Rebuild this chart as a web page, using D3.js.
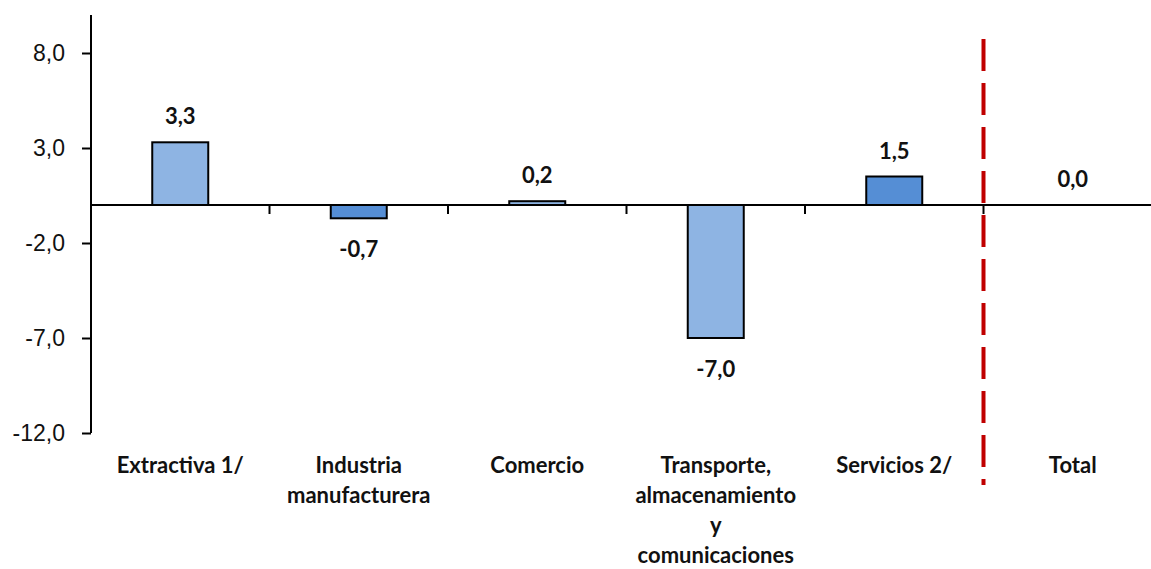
<!DOCTYPE html>
<html>
<head>
<meta charset="utf-8">
<script src="https://cdn.jsdelivr.net/npm/d3@7"></script>
<style>
  body { margin: 0; background: #fff; }
  svg { display: block; font-family: Lato, "Open Sans", sans-serif; }
</style>
</head>
<body>
<svg id="chart" width="1151" height="569"></svg>
<script>
// data
const categories = ["Extractiva 1/", "Industria manufacturera", "Comercio", "Transporte, almacenamiento y comunicaciones", "Servicios 2/", "Total"];
const labelLines = [["Extractiva 1/"], ["Industria", "manufacturera"], ["Comercio"], ["Transporte,", "almacenamiento", "y", "comunicaciones"], ["Servicios 2/"], ["Total"]];
const values = [3.3, -0.7, 0.2, -7.0, 1.5, 0.0];
const barColors = ["#8EB4E3", "#558ED5", "#8EB4E3", "#8EB4E3", "#558ED5", "#558ED5"];
const yTicks = [-12, -7, -2, 3, 8];

const svg = d3.select("#chart");
const left = 91;
const band = 178.5;

const x = d3.scaleBand()
    .domain(categories)
    .range([left, left + band * categories.length])
    .paddingInner(0)
    .paddingOuter(0);

const y = d3.scaleLinear()
    .domain([-12, 10])
    .range([433, 15]);

const fmt = v => d3.format(".1f")(v).replace(".", ",").replace("−", "-");

// Y axis
const yAxis = svg.append("g")
    .attr("transform", "translate(" + left + ",0)")
    .call(d3.axisLeft(y).tickValues(yTicks).tickSize(9).tickFormat(fmt));
yAxis.select(".domain").attr("d", "M0," + y(10) + "V" + y(-12)).attr("stroke", "#000").attr("stroke-width", 2);
yAxis.selectAll(".tick line").attr("stroke", "#000").attr("stroke-width", 2);
yAxis.selectAll(".tick text")
    .attr("x", -26)
    .attr("fill", "#111")
    .style("font-size", "23px");

// Bars
const barW = 56;
svg.append("g")
    .selectAll("rect")
    .data(values)
    .enter()
    .append("rect")
    .attr("x", (d, i) => x(categories[i]) + x.bandwidth() / 2 - barW / 2)
    .attr("y", d => y(Math.max(0, d)))
    .attr("width", barW)
    .attr("height", d => Math.abs(y(d) - y(0)))
    .attr("fill", (d, i) => barColors[i])
    .attr("stroke", "#000")
    .attr("stroke-width", 2);

// zero line + category ticks
svg.append("line")
    .attr("x1", left).attr("x2", 1151)
    .attr("y1", y(0)).attr("y2", y(0))
    .attr("stroke", "#000").attr("stroke-width", 2);
svg.append("g")
    .selectAll("line")
    .data(categories.slice(1))
    .enter()
    .append("line")
    .attr("x1", d => x(d)).attr("x2", d => x(d))
    .attr("y1", y(0)).attr("y2", y(0) + 9)
    .attr("stroke", "#000").attr("stroke-width", 2);

// Value labels
svg.append("g")
    .selectAll("text")
    .data(values)
    .enter()
    .append("text")
    .attr("x", (d, i) => x(categories[i]) + x.bandwidth() / 2)
    .attr("y", d => d >= 0 ? y(d) - 18 : y(d) + 39)
    .attr("text-anchor", "middle")
    .attr("font-weight", "bold")
    .attr("fill", "#111")
    .style("font-size", "22px")
    .text(d => fmt(d));

// Category labels
const catG = svg.append("g");
labelLines.forEach((lines, i) => {
    const t = catG.append("text")
        .attr("x", x(categories[i]) + x.bandwidth() / 2)
        .attr("y", 473)
        .attr("text-anchor", "middle")
        .attr("font-weight", "bold")
        .attr("fill", "#111")
        .style("font-size", "22px");
    lines.forEach((l, j) => {
        t.append("tspan")
            .attr("x", x(categories[i]) + x.bandwidth() / 2)
            .attr("dy", j === 0 ? 0 : 30)
            .text(l);
    });
});

// Red dashed separator before Total
svg.append("line")
    .attr("x1", x("Total")).attr("x2", x("Total"))
    .attr("y1", 39).attr("y2", 485)
    .attr("stroke", "#C00000")
    .attr("stroke-width", 4)
    .attr("stroke-dasharray", "32,12");
</script>
</body>
</html>
